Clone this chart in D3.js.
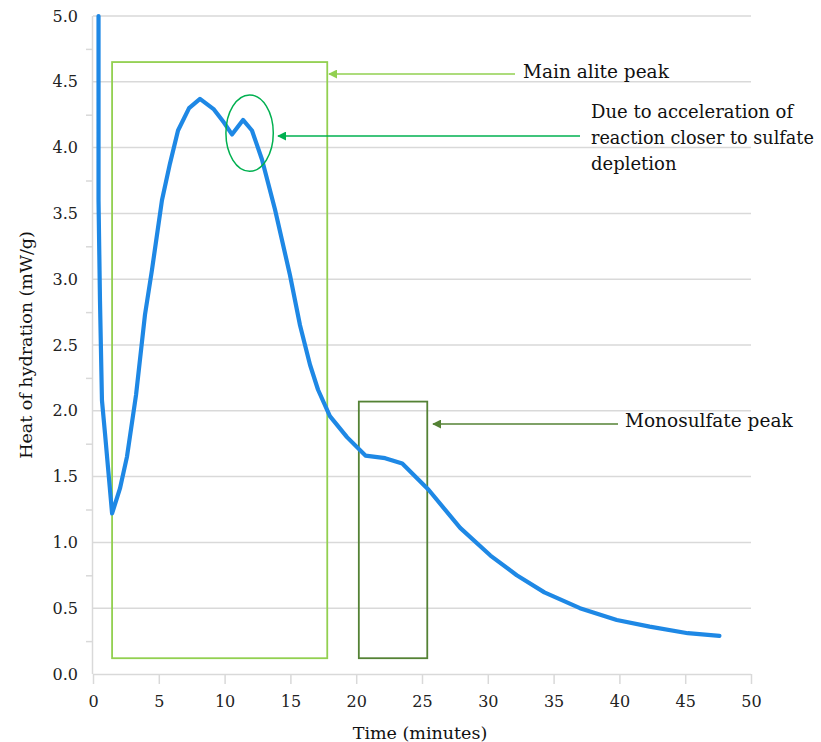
<!DOCTYPE html>
<html><head><meta charset="utf-8">
<script src="https://cdn.jsdelivr.net/npm/d3@7"></script>
<style>body{margin:0;background:#fff}svg{display:block}</style>
</head><body>
<svg id="c" width="821" height="742"></svg>
<script>
// Data
const time = [0.42,0.42,0.53,0.68,0.91,1.14,1.45,2.05,2.58,3.27,3.95,4.48,5.24,5.85,6.46,7.3,8.13,9.19,9.95,10.56,11.4,12.08,12.84,13.83,14.97,15.73,16.49,17.1,18.0,19.3,20.7,22.2,23.5,25.5,27.9,30.2,32.2,34.3,37.0,39.8,42.3,45.2,47.6];
const heat = [5.0,3.6,2.84,2.08,1.83,1.57,1.22,1.41,1.65,2.12,2.73,3.07,3.6,3.88,4.13,4.30,4.37,4.29,4.19,4.10,4.21,4.13,3.91,3.53,3.03,2.65,2.35,2.16,1.96,1.80,1.66,1.64,1.60,1.40,1.11,0.90,0.75,0.62,0.50,0.41,0.36,0.31,0.29];
const xTicks = [0,5,10,15,20,25,30,35,40,45,50];
const yTicks = [0,0.5,1,1.5,2,2.5,3,3.5,4,4.5,5];
const boxes = [
  {x0:1.45, x1:17.8, y0:0.12, y1:4.65, color:"#92d050"},
  {x0:20.2, x1:25.4, y0:0.12, y1:2.07, color:"#548235"}
];
const ellipse = {cx:11.9, cy:4.11, rx:1.8, ry:0.29, color:"#00b050"};
const notes = [
  {lines:["Main alite peak"], size:18.5, tx:523, ty:78, arrowFrom:[515,74], arrowTo:[329,74], color:"#92d050"},
  {lines:["Due to acceleration of","reaction closer to sulfate","depletion"], size:18, tx:591, ty:118, arrowFrom:[580,136], arrowTo:[278,136], color:"#00b050"},
  {lines:["Monosulfate peak"], size:18.5, tx:625, ty:427, arrowFrom:[618,424], arrowTo:[433,424], color:"#548235"}
];

const svg = d3.select("#c");
const x = d3.scaleLinear().domain([0,50]).range([93,751]);
const y = d3.scaleLinear().domain([0,5]).range([674,16]);
const font = "'DejaVu Serif', serif";

// gridlines
svg.append("g").selectAll("line").data(yTicks.filter(d=>d>0)).join("line")
  .attr("x1",x(0)).attr("x2",x(50)).attr("y1",d=>y(d)).attr("y2",d=>y(d))
  .attr("stroke","#d9d9d9").attr("stroke-width",1.5);

// y axis
const yAxis = svg.append("g").attr("transform",`translate(${x(0)},0)`)
  .call(d3.axisLeft(y).tickValues(d3.range(0,5.01,0.25)).tickSize(7).tickFormat(d=> (Math.round(d*100)%50===0)? d3.format(".1f")(d):""));
yAxis.select(".domain").attr("stroke","#d9d9d9").attr("stroke-width",1.5).attr("d",`M-0.5,${y(5)}V${y(0)}`);
yAxis.selectAll(".tick line").attr("stroke","#d9d9d9").attr("stroke-width",1.5);
yAxis.selectAll(".tick").filter(d=>Math.round(d*100)%50===0).select("line").attr("x2",0);
yAxis.selectAll("text").attr("font-family",font).attr("font-size",16).attr("fill","#222").attr("x",-15);

// x axis
const xAxis = svg.append("g").attr("transform",`translate(0,${y(0)})`)
  .call(d3.axisBottom(x).tickValues(xTicks).tickSize(10).tickPadding(12));
xAxis.select(".domain").attr("stroke","#d9d9d9").attr("stroke-width",1.5).attr("d",`M${x(0)},0.5H${x(50)}`);
xAxis.selectAll(".tick line").attr("stroke","#d9d9d9").attr("stroke-width",1.5);
xAxis.selectAll("text").attr("font-family",font).attr("font-size",16).attr("fill","#222");

// axis titles
svg.append("text").attr("x",420).attr("y",739).attr("text-anchor","middle")
  .attr("font-family",font).attr("font-size",17.5).attr("fill","#111").text("Time (minutes)");
svg.append("text").attr("transform","translate(32,345) rotate(-90)").attr("text-anchor","middle")
  .attr("font-family",font).attr("font-size",17.5).attr("fill","#111").text("Heat of hydration (mW/g)");

// boxes
svg.append("g").selectAll("rect").data(boxes).join("rect")
  .attr("x",d=>x(d.x0)).attr("y",d=>y(d.y1)).attr("width",d=>x(d.x1)-x(d.x0)).attr("height",d=>y(d.y0)-y(d.y1))
  .attr("fill","none").attr("stroke",d=>d.color).attr("stroke-width",1.8);

// curve
const line = d3.line().x((d,i)=>x(time[i])).y((d,i)=>y(heat[i]));
svg.append("path").attr("d",line(heat)).attr("fill","none").attr("stroke","#1e88e5")
  .attr("stroke-width",4.2).attr("stroke-linejoin","round").attr("stroke-linecap","round");

// ellipse
svg.append("ellipse").attr("cx",x(ellipse.cx)).attr("cy",y(ellipse.cy))
  .attr("rx",x(ellipse.rx)-x(0)).attr("ry",y(0)-y(ellipse.ry))
  .attr("fill","none").attr("stroke",ellipse.color).attr("stroke-width",1.5);

// annotations
const defs = svg.append("defs");
notes.forEach((n,i)=>{
  defs.append("marker").attr("id","m"+i).attr("viewBox","0 0 10 10").attr("refX",1).attr("refY",5)
    .attr("markerWidth",9).attr("markerHeight",9).attr("markerUnits","userSpaceOnUse").attr("orient","auto")
    .append("path").attr("d","M0,5L10,0L10,10Z").attr("fill",n.color);
  svg.append("line").attr("x1",n.arrowTo[0]).attr("y1",n.arrowTo[1]).attr("x2",n.arrowFrom[0]).attr("y2",n.arrowFrom[1])
    .attr("stroke",n.color).attr("stroke-width",1.3).attr("marker-start",`url(#m${i})`);
  n.lines.forEach((l,j)=>{
    const t = svg.append("text").attr("font-family",font).attr("font-size",n.size).attr("fill","#111")
      .attr("x",n.tx).attr("y",n.ty+j*26).text(l);
    const w = t.node().getComputedTextLength();
    const maxW = 814 - n.tx;
    if (w > maxW) t.attr("font-size", n.size*maxW/w);
  });
});
</script>
</body></html>
